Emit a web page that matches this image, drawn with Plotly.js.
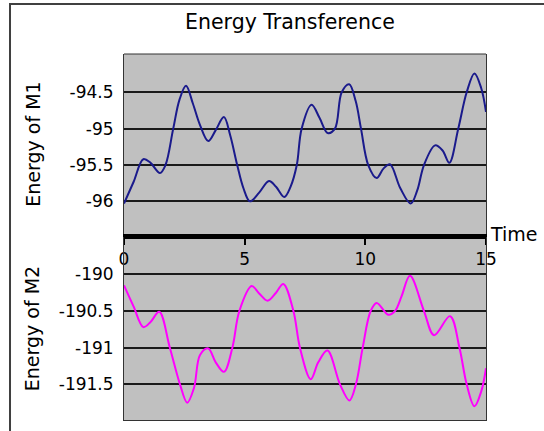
<!DOCTYPE html>
<html>
<head>
<meta charset="utf-8">
<script src="https://cdn.plot.ly/plotly-3.0.1.min.js"></script>
<style>html,body{margin:0;padding:0;background:#fff;}#chart{width:544px;height:431px;}</style>
</head>
<body>
<div id="chart"></div>
<script>
// Energy of M1 (top panel)
const timeM1 = [0, 0.4, 0.8, 1.1, 1.49, 1.72, 2.04, 2.3, 2.57, 2.85, 3.15, 3.49, 3.8, 4.14, 4.4, 4.69, 4.95, 5.22, 5.6, 6.01, 6.3, 6.64, 6.9, 7.16, 7.36, 7.77, 8.1, 8.44, 8.74, 9.02, 9.33, 9.6, 9.82, 10.12, 10.47, 10.75, 11.02, 11.45, 11.88, 12.15, 12.43, 12.89, 13.2, 13.48, 13.85, 14.2, 14.52, 14.8, 15];
const energyM1 = [-96.03, -95.73, -95.42, -95.47, -95.61, -95.5, -95.0, -94.6, -94.41, -94.65, -94.95, -95.17, -95.02, -94.84, -95.09, -95.5, -95.82, -96.0, -95.88, -95.72, -95.8, -95.94, -95.8, -95.5, -95.0, -94.67, -94.85, -95.06, -95.0, -94.5, -94.39, -94.62, -95.0, -95.5, -95.68, -95.55, -95.49, -95.82, -96.03, -95.85, -95.5, -95.23, -95.3, -95.47, -95.0, -94.5, -94.24, -94.44, -94.77];

// Energy of M2 (bottom panel)
const timeM2 = [0, 0.4, 0.8, 1.1, 1.46, 1.9, 2.32, 2.62, 2.9, 3.15, 3.49, 3.8, 4.14, 4.49, 4.78, 5.29, 5.6, 5.95, 6.3, 6.6, 7.02, 7.29, 7.74, 8.05, 8.43, 8.95, 9.34, 9.61, 9.89, 10.22, 10.47, 10.95, 11.23, 11.5, 11.85, 12.43, 12.85, 13.51, 13.9, 14.2, 14.52, 14.8, 15];
const energyM2 = [-190.15, -190.44, -190.72, -190.65, -190.51, -191.0, -191.5, -191.75, -191.55, -191.1, -191.01, -191.2, -191.33, -191.0, -190.5, -190.16, -190.26, -190.36, -190.25, -190.13, -190.5, -191.0, -191.43, -191.2, -191.04, -191.5, -191.72, -191.5, -191.0, -190.5, -190.39, -190.55, -190.5, -190.3, -190.02, -190.5, -190.83, -190.57, -191.0, -191.5, -191.8, -191.6, -191.28];

const xTicks = [0, 5, 10, 15];
const yTicksM1 = [-96, -95.5, -95, -94.5];
const yTicksM2 = [-191.5, -191, -190.5, -190];

const FONT = 'DejaVu Sans, Arial, sans-serif';

const traces = [
  {x: timeM1, y: energyM1, xaxis: 'x', yaxis: 'y', type: 'scatter', mode: 'lines',
   line: {color: '#1a1a8c', width: 2, shape: 'spline', smoothing: 1}, hoverinfo: 'skip'},
  {x: timeM2, y: energyM2, xaxis: 'x2', yaxis: 'y2', type: 'scatter', mode: 'lines',
   line: {color: '#ff00ff', width: 2, shape: 'spline', smoothing: 1}, hoverinfo: 'skip'}
];

const layout = {
  width: 544, height: 431,
  margin: {l: 124, r: 58, t: 54, b: 11, pad: 0},
  paper_bgcolor: '#ffffff',
  plot_bgcolor: '#c0c0c0',
  showlegend: false,
  font: {family: FONT, color: '#000', size: 17},
  title: {text: 'Energy Transference', x: 0.533, xanchor: 'center', y: 0.949, yanchor: 'middle',
          font: {family: FONT, size: 20.5, color: '#000'}},
  xaxis: {domain: [0, 1], anchor: 'y', range: [0, 15], tickvals: xTicks, ticktext: xTicks.map(String),
          showgrid: false, zeroline: false, showline: true, linecolor: '#000', linewidth: 5,
          ticks: 'outside', ticklen: 6, tickwidth: 2, tickcolor: '#000',
          tickfont: {family: FONT, size: 17, color: '#000'}},
  xaxis2: {domain: [0, 1], anchor: 'y2', range: [0, 15], matches: 'x', showticklabels: false,
           showgrid: false, zeroline: false, showline: true, linecolor: '#333', linewidth: 1, ticks: ''},
  yaxis: {domain: [0.508, 1], anchor: 'x', range: [-96.45, -93.973], tickvals: yTicksM1,
          ticktext: yTicksM1.map(String), showgrid: true, gridcolor: '#1a1a1a', gridwidth: 2,
          zeroline: false, showline: true, mirror: true, linecolor: '#333', linewidth: 1, ticks: '',
          ticklabelstandoff: 6, tickfont: {family: FONT, size: 17, color: '#000'},
          title: {text: 'Energy of M1', standoff: 23, font: {family: FONT, size: 19, color: '#000'}}},
  yaxis2: {domain: [0, 0.5], anchor: 'x2', range: [-191.987, -189.49], tickvals: yTicksM2,
           ticktext: yTicksM2.map(String), showgrid: true, gridcolor: '#1a1a1a', gridwidth: 2,
           zeroline: false, showline: true, mirror: true, linecolor: '#333', linewidth: 1, ticks: '',
           ticklabelstandoff: 6, tickfont: {family: FONT, size: 17, color: '#000'},
           title: {text: 'Energy of M2', standoff: 14, font: {family: FONT, size: 19, color: '#000'}}},
  shapes: [
    {type: 'line', xref: 'x domain', yref: 'y domain', x0: 0, x1: 1, y0: 1, y1: 1,
     line: {color: '#333', width: 1}, layer: 'above'},
    {type: 'rect', xref: 'paper', yref: 'paper', x0: -0.3149, x1: 2, y0: -1, y1: 1.1366,
     line: {color: '#404040', width: 2}, fillcolor: 'rgba(0,0,0,0)', layer: 'above'}
  ],
  annotations: [
    {text: 'Time', xref: 'paper', yref: 'paper', x: 1, y: 0.5, xanchor: 'left', yanchor: 'middle',
     xshift: 2, yshift: 3, showarrow: false, font: {family: FONT, size: 19, color: '#000'}}
  ]
};

Plotly.newPlot('chart', traces, layout, {staticPlot: true, displayModeBar: false});
</script>
</body>
</html>
